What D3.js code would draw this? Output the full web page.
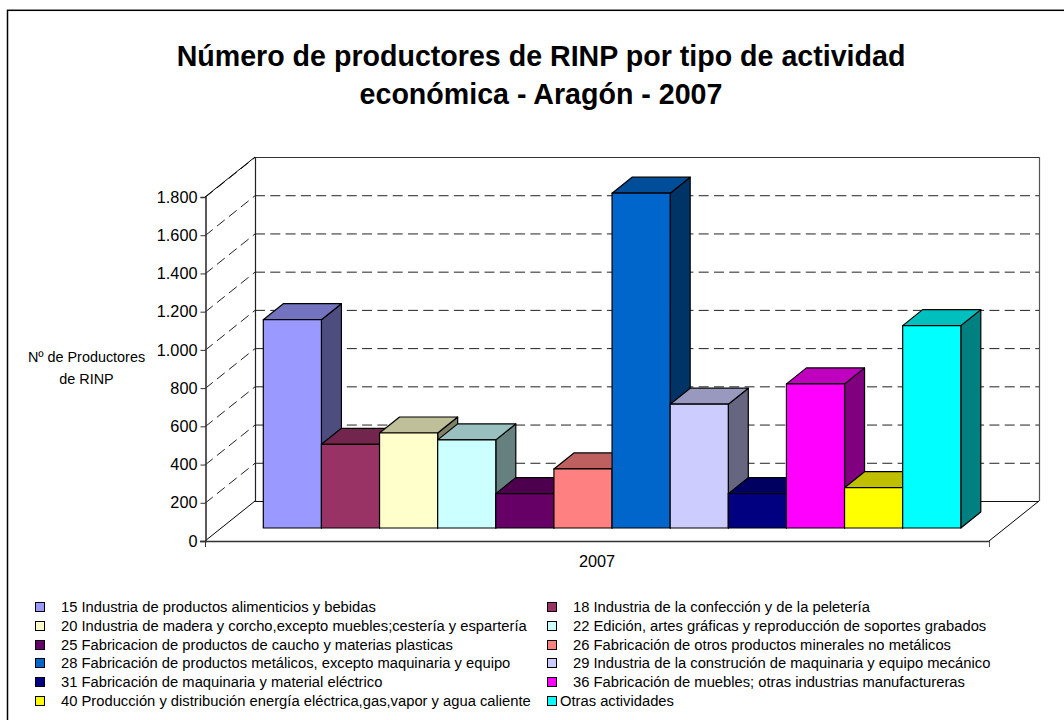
<!DOCTYPE html>
<html><head><meta charset="utf-8">
<script src="https://d3js.org/d3.v7.min.js"></script>
<style>html,body{margin:0;padding:0;background:#fff}svg{display:block}text{font-family:"Liberation Sans",Arial,sans-serif;fill:#000}</style>
</head><body><div id="c"></div>
<script>
const titleLines=["Número de productores de RINP por tipo de actividad","económica - Aragón - 2007"];
const yAxisLines=["Nº de Productores","de RINP"];
const categoryLabel=["2007"];
const names=[
"15 Industria de productos alimenticios y bebidas",
"18 Industria de la confección y de la peletería",
"20 Industria de madera y corcho,excepto muebles;cestería y espartería",
"22 Edición, artes gráficas y reproducción de soportes grabados",
"25 Fabricacion de productos de caucho y materias plasticas",
"26 Fabricación de otros productos minerales no metálicos",
"28 Fabricación de productos metálicos, excepto maquinaria y equipo",
"29 Industria de la construción de maquinaria y equipo mecánico",
"31 Fabricación de maquinaria y material eléctrico",
"36 Fabricación de muebles; otras industrias manufactureras",
"40 Producción y distribución energía eléctrica,gas,vapor y agua caliente",
"Otras actividades"];
const values=[1090,438,497,461,180,309,1752,648,180,754,211,1059];
const colors=["#9999ff","#993366","#ffffcc","#ccffff","#660066","#ff8080","#0066cc","#ccccff","#000080","#ff00ff","#ffff00","#00ffff"];
const ticks=[0,200,400,600,800,1000,1200,1400,1600,1800];

const W=1064,H=720;
const svg=d3.select("#c").append("svg").attr("width",W).attr("height",H);
svg.append("rect").attr("x",7.5).attr("y",10.3).attr("width",1100).attr("height",760).attr("fill","#fff").attr("stroke","#000").attr("stroke-width",1.5);

const fmt=v=>d3.format(",")(v).replace(/,/g,".");
const y=d3.scaleLinear().domain([0,1800]).range([541,197]);
const x0=205,x1=989,dx=50,dy=-40;
const grid=svg.append("g");
const line=(g,a,b,c,d,col,w,dash)=>g.append("line").attr("x1",a).attr("y1",b).attr("x2",c).attr("y2",d).attr("stroke",col).attr("stroke-width",w).attr("stroke-dasharray",dash||null);
ticks.slice(1).forEach(t=>{
  line(grid,x0+dx,y(t)+dy+.5,x1+dx,y(t)+dy+.5,"#222",1,"10 5.3");
  line(grid,x0,y(t)+.5,x0+dx,y(t)+dy+.5,"#222",1,"10 5.3");
});
line(grid,x0+dx+.5,y(1800)+dy,x0+dx+.5,y(0)+dy,"#222",1.2);
line(grid,x1+dx+.5,y(1800)+dy,x1+dx+.5,y(0)+dy,"#555",1.2);
line(grid,x0+dx,y(1800)+dy+.5,x1+dx,y(1800)+dy+.5,"#333",1);
line(grid,x0+dx,y(0)+dy+.5,x1+dx,y(0)+dy+.5,"#111",1);
line(grid,x0,y(1800),x0+dx,y(1800)+dy,"#000",1);
line(grid,x0,y(0),x0+dx,y(0)+dy,"#000",1);
line(grid,x1,y(0),x1+dx,y(0)+dy,"#000",1);

const axis=d3.axisLeft(y).tickValues(ticks).tickFormat(fmt).tickSize(5).tickPadding(3);
const ag=svg.append("g").attr("transform",`translate(${x0+.5},0)`).call(axis);
ag.selectAll("path").attr("stroke","#333").attr("stroke-width",1.6);
ag.selectAll("line").attr("stroke","#333");
ag.selectAll("text").attr("font-size",16.3).style("font-family",'"Liberation Sans",Arial,sans-serif').attr("fill","#000");
line(svg,x0-5,y(0)+.5,x1,y(0)+.5,"#333",1.4);
line(svg,x0+.5,y(0),x0+.5,y(0)+6,"#333",1);
line(svg,x1+.5,y(0),x1+.5,y(0)+6,"#555",1);

const band=d3.scaleBand().domain(d3.range(values.length)).range([263.3,960.8]);
const unit=(y(0)-y(200))/200;
const baseY=528,bdx=20,bdy=-16;
const h=d3.scaleLinear().domain([0,1800]).range([0,1800*unit]);
const shade=(c,k)=>{const r=d3.rgb(c);return d3.rgb(r.r*k,r.g*k,r.b*k).formatHex();};
const bars=svg.append("g").selectAll("g").data(values).join("g");
bars.each(function(v,i){
  const g=d3.select(this),a=band(i),b=a+band.bandwidth(),t=baseY-h(v);
  const poly=(pts,f)=>g.append("polygon").attr("points",pts.map(p=>p.join(",")).join(" ")).attr("fill",f).attr("stroke","#000").attr("stroke-width",1.2).attr("stroke-linejoin","round");
  poly([[b,t],[b+bdx,t+bdy],[b+bdx,baseY+bdy],[b,baseY]],shade(colors[i],.5));
  poly([[a,t],[a+bdx,t+bdy],[b+bdx,t+bdy],[b,t]],shade(colors[i],.75));
  poly([[a,t],[b,t],[b,baseY],[a,baseY]],colors[i]);
});

svg.append("g").selectAll("text").data(titleLines).join("text")
 .attr("x",541).attr("y",(d,i)=>66+i*38).attr("text-anchor","middle").attr("font-size",28.6).attr("font-weight","bold").text(d=>d);
svg.append("g").selectAll("text").data(yAxisLines).join("text")
 .attr("x",86.5).attr("y",(d,i)=>362+i*22).attr("text-anchor","middle").attr("font-size",14.4).text(d=>d);
svg.append("text").attr("x",597).attr("y",567).attr("text-anchor","middle").attr("font-size",16.3).text(categoryLabel[0]);

const legY=[607,626,645,663,682,701];
const lg=svg.append("g").selectAll("g").data(names).join("g")
 .attr("transform",(d,i)=>`translate(${i%2?547:35},${legY[Math.floor(i/2)]})`);
lg.append("rect").attr("x",.5).attr("y",-4.5).attr("width",9).attr("height",9).attr("fill",(d,i)=>colors[i]).attr("stroke","#000").attr("stroke-width",1);
lg.append("text").attr("x",(d,i)=>i===11?13:26).attr("y",5).attr("font-size",14.75).text(d=>d);
</script></body></html>
